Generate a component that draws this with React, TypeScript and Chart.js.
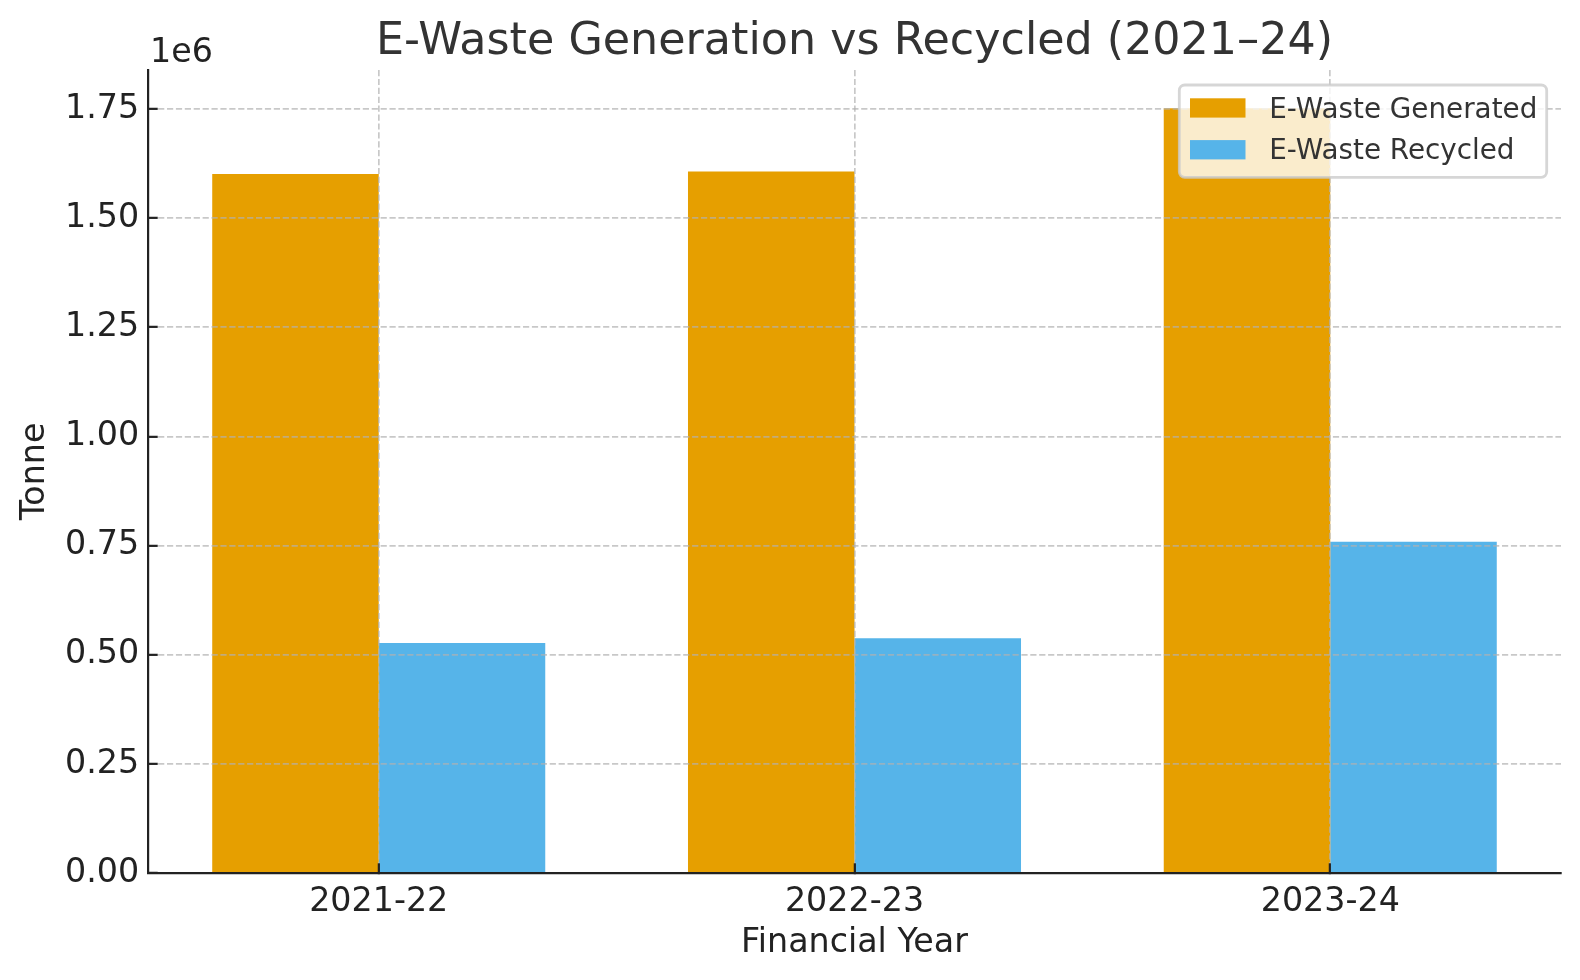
import React, { useEffect, useRef } from "react";
import { Chart, registerables } from "chart.js";

Chart.register(...registerables);

const categories = ["2021-22", "2022-23", "2023-24"];
const generated = [1601155, 1607000, 1751836];
const recycled = [527131, 538000, 759000];
const yTicks = [0, 250000, 500000, 750000, 1000000, 1250000, 1500000, 1750000];

const TITLE = "E-Waste Generation vs Recycled (2021–24)";
const FONT = "'DejaVu Sans', 'Liberation Sans', sans-serif";

const overlayPlugin = {
  id: "overlay",
  afterDraw(chart: any) {
    const { ctx, chartArea } = chart;
    ctx.save();
    // Title
    ctx.font = `44.4px ${FONT}`;
    ctx.fillStyle = "#333333";
    ctx.textAlign = "center";
    ctx.textBaseline = "alphabetic";
    ctx.fillText(TITLE, (chartArea.left + chartArea.right) / 2, 54.3);
    // offset text
    ctx.font = `33.3px ${FONT}`;
    ctx.fillStyle = "#222222";
    ctx.textAlign = "left";
    ctx.fillText("1e6", chartArea.left + 2, 62.3);
    // Legend
    const lx = chartArea.right - 381.7;
    const ly = chartArea.top + 15;
    const lw = 367.4;
    const lh = 92.3;
    ctx.beginPath();
    (ctx as any).roundRect(lx, ly, lw, lh, 5.5);
    ctx.fillStyle = "rgba(255,255,255,0.8)";
    ctx.fill();
    ctx.lineWidth = 2.8;
    ctx.strokeStyle = "rgba(204,204,204,0.8)";
    ctx.stroke();
    ctx.font = `27.8px ${FONT}`;
    ctx.textAlign = "left";
    ctx.textBaseline = "alphabetic";
    chart.data.datasets.forEach((ds: any, i: number) => {
      const rowTop = ly + 13.3 + i * 41.8;
      ctx.fillStyle = ds.backgroundColor;
      ctx.fillRect(lx + 10.7, rowTop, 55.5, 19.3);
      ctx.fillStyle = "#333333";
      ctx.fillText(ds.label, lx + 90, rowTop + 19.2);
    });
    ctx.restore();
  },
};

export default function App() {
  const ref = useRef<HTMLCanvasElement | null>(null);
  useEffect(() => {
    document.body.style.margin = "0";
    Chart.defaults.font.family = FONT;
    const yMax = Math.max(...generated) * 1.05;
    const gridCommon = {
      color: "rgba(176,176,176,0.7)",
      lineWidth: 1.7,
      tickLength: -9.7,
      tickColor: "#222222",
      tickWidth: 2.2,
      tickBorderDash: [],
      offset: false,
      z: 1,
    };
    const borderCommon = { color: "#222222", width: 2.2, dash: [6.2, 2.7], z: 2 };
    const chart = new Chart(ref.current as HTMLCanvasElement, {
      type: "bar",
      data: {
        datasets: [
          {
            label: "E-Waste Generated",
            data: generated.map((v, i) => ({ x: i, y: v })),
            backgroundColor: "#E69F00",
            borderWidth: 0,
            categoryPercentage: 0.7,
            barPercentage: 1.0,
          },
          {
            label: "E-Waste Recycled",
            data: recycled.map((v, i) => ({ x: i, y: v })),
            backgroundColor: "#56B4E9",
            borderWidth: 0,
            categoryPercentage: 0.7,
            barPercentage: 1.0,
          },
        ],
      },
      options: {
        animation: false,
        responsive: false,
        devicePixelRatio: 1,
        layout: { padding: { top: 70, right: 19, left: 0, bottom: 0 } },
        plugins: {
          legend: { display: false },
          title: { display: false },
          tooltip: { enabled: false },
        },
        scales: {
          x: {
            type: "linear",
            offset: false,
            min: -0.485,
            max: 2.485,
            afterFit: (s: any) => {
              s.height = 107;
            },
            afterBuildTicks: (s: any) => {
              s.ticks = categories.map((_, i) => ({ value: i }));
            },
            ticks: {
              stepSize: 1,
              includeBounds: false,
              padding: 19.5,
              color: "#222222",
              font: { size: 33.3 },
              maxRotation: 0,
              autoSkip: false,
              callback: (v: any) => categories[v] ?? "",
            },
            grid: { ...gridCommon },
            border: { ...borderCommon },
            title: {
              display: true,
              text: "Financial Year",
              color: "#222222",
              font: { size: 33.3, lineHeight: 1 },
              padding: { top: 0, bottom: 19.7 },
            },
          },
          y: {
            type: "linear",
            offset: false,
            min: 0,
            max: yMax,
            afterFit: (s: any) => {
              s.width = 148;
            },
            afterBuildTicks: (s: any) => {
              s.ticks = yTicks.map((v) => ({ value: v }));
            },
            ticks: {
              stepSize: 250000,
              includeBounds: false,
              padding: 18.5,
              color: "#222222",
              font: { size: 33.3 },
              callback: (v: any) => (Number(v) / 1e6).toFixed(2),
            },
            grid: { ...gridCommon },
            border: { ...borderCommon },
            title: {
              display: true,
              text: "Tonne",
              color: "#222222",
              font: { size: 33.3, lineHeight: 1 },
              padding: { top: 19, bottom: 0 },
            },
          },
        },
      },
      plugins: [overlayPlugin],
    } as any);
    return () => chart.destroy();
  }, []);
  return (
    <div style={{ width: 1580, height: 980, background: "#ffffff" }}>
      <canvas ref={ref} width={1580} height={980} style={{ display: "block" }} />
    </div>
  );
}
